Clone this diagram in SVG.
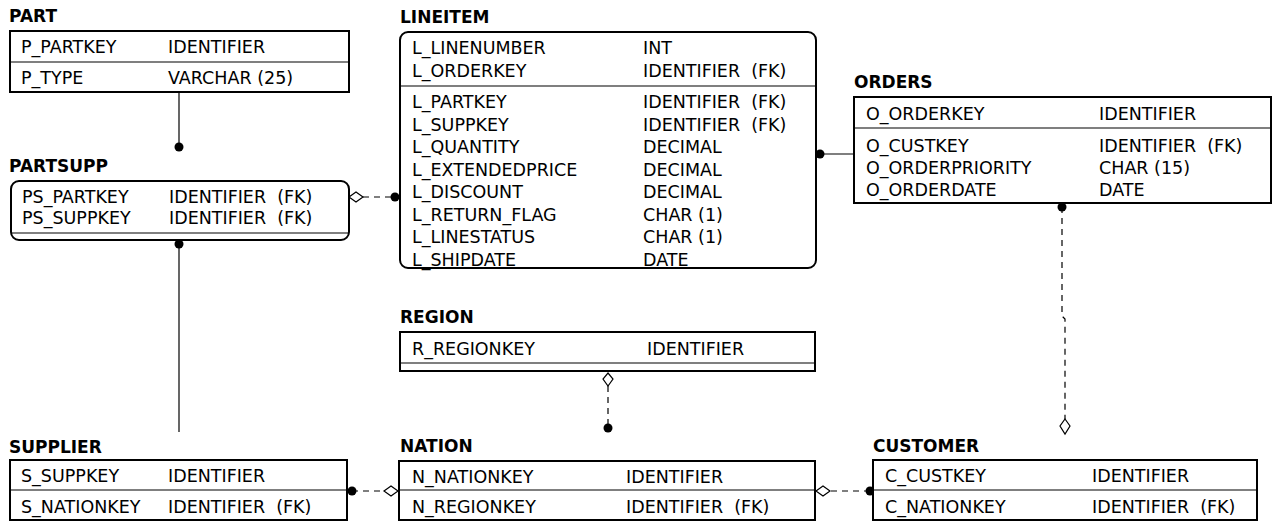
<svg xmlns="http://www.w3.org/2000/svg" width="1274" height="522" viewBox="0 0 1274 522">
<defs>
<style>
.bg{fill:#ffffff}
.box{fill:#ffffff;stroke:#000;stroke-width:2}
.div{stroke:#000;stroke-width:1.2;fill:none}
.t{font-family:"DejaVu Sans","Liberation Sans",sans-serif;font-size:17.5px;fill:#000;white-space:pre}
.h{font-family:"DejaVu Sans","Liberation Sans",sans-serif;font-size:17px;font-weight:bold;fill:#000}
.solid{stroke:#000;stroke-width:1.2;fill:none}
.dash{stroke:#000;stroke-width:1.2;fill:none;stroke-dasharray:6,5}
.dot{fill:#000}
.dia{fill:#fff;stroke:#000;stroke-width:1.2}
</style>
</defs>
<rect class="bg" x="0" y="0" width="1274" height="522"/>

<g id="connectors">
  <!-- PART - PARTSUPP -->
  <line class="solid" x1="179" y1="92" x2="179" y2="147"/>
  <circle class="dot" cx="179" cy="147" r="4.5"/>
  <!-- PARTSUPP - SUPPLIER -->
  <circle class="dot" cx="179" cy="244" r="4.5"/>
  <line class="solid" x1="179" y1="244" x2="179" y2="432"/>
  <!-- PARTSUPP - LINEITEM -->
  <line class="dash" x1="363" y1="197" x2="394" y2="197"/>
  <polygon class="dia" points="349,197 356,192 363,197 356,202"/>
  <circle class="dot" cx="395" cy="197" r="4.5"/>
  <!-- LINEITEM - ORDERS -->
  <line class="solid" x1="820" y1="154" x2="854" y2="154"/>
  <circle class="dot" cx="820" cy="154" r="4.5"/>
  <!-- ORDERS - CUSTOMER -->
  <path class="dash" d="M1062,207 V316 L1065,319 V419"/>
  <circle class="dot" cx="1062" cy="207" r="4.5"/>
  <polygon class="dia" points="1065,419 1070,426 1065,434 1060,426"/>
  <!-- REGION - NATION -->
  <line class="dash" x1="608" y1="386" x2="608" y2="428"/>
  <polygon class="dia" points="608,373 613,379 608,386 603,379"/>
  <circle class="dot" cx="608" cy="428" r="4.5"/>
  <!-- SUPPLIER - NATION -->
  <line class="dash" x1="352" y1="491" x2="385" y2="491"/>
  <circle class="dot" cx="352" cy="491" r="4.5"/>
  <polygon class="dia" points="384,491 391,486 398,491 391,496"/>
  <!-- NATION - CUSTOMER -->
  <line class="dash" x1="831" y1="491" x2="870" y2="491"/>
  <polygon class="dia" points="816,491 823,486 830,491 823,496"/>
  <circle class="dot" cx="870" cy="491" r="4.5"/>
</g>

<g id="part">
  <text class="h" x="9" y="22">PART</text>
  <rect class="box" x="10" y="31" width="339" height="61"/>
  <line class="div" x1="10" y1="62" x2="349" y2="62"/>
  <text class="t" x="21" y="53">P_PARTKEY</text>
  <text class="t" x="168" y="53">IDENTIFIER</text>
  <text class="t" x="21" y="84">P_TYPE</text>
  <text class="t" x="168" y="84">VARCHAR (25)</text>
</g>

<g id="partsupp">
  <text class="h" x="9" y="172">PARTSUPP</text>
  <rect class="box" x="11" y="181" width="338" height="59" rx="8"/>
  <line class="div" x1="11" y1="233" x2="349" y2="233"/>
  <text class="t" x="22" y="203">PS_PARTKEY</text>
  <text class="t" x="169" y="203" xml:space="preserve">IDENTIFIER  (FK)</text>
  <text class="t" x="22" y="224">PS_SUPPKEY</text>
  <text class="t" x="169" y="224" xml:space="preserve">IDENTIFIER  (FK)</text>
</g>

<g id="lineitem">
  <text class="h" x="400" y="23">LINEITEM</text>
  <rect class="box" x="400" y="32" width="416" height="236" rx="8"/>
  <line class="div" x1="400" y1="86" x2="816" y2="86"/>
  <text class="t" x="412" y="54">L_LINENUMBER</text>
  <text class="t" x="643" y="54">INT</text>
  <text class="t" x="412" y="77">L_ORDERKEY</text>
  <text class="t" x="643" y="77" xml:space="preserve">IDENTIFIER  (FK)</text>
  <text class="t" x="412" y="108">L_PARTKEY</text>
  <text class="t" x="643" y="108" xml:space="preserve">IDENTIFIER  (FK)</text>
  <text class="t" x="412" y="130.5">L_SUPPKEY</text>
  <text class="t" x="643" y="130.5" xml:space="preserve">IDENTIFIER  (FK)</text>
  <text class="t" x="412" y="153">L_QUANTITY</text>
  <text class="t" x="643" y="153">DECIMAL</text>
  <text class="t" x="412" y="175.5">L_EXTENDEDPRICE</text>
  <text class="t" x="643" y="175.5">DECIMAL</text>
  <text class="t" x="412" y="198">L_DISCOUNT</text>
  <text class="t" x="643" y="198">DECIMAL</text>
  <text class="t" x="412" y="220.5">L_RETURN_FLAG</text>
  <text class="t" x="643" y="220.5">CHAR (1)</text>
  <text class="t" x="412" y="243">L_LINESTATUS</text>
  <text class="t" x="643" y="243">CHAR (1)</text>
  <text class="t" x="412" y="265.5">L_SHIPDATE</text>
  <text class="t" x="643" y="265.5">DATE</text>
</g>

<g id="orders">
  <text class="h" x="854" y="88">ORDERS</text>
  <rect class="box" x="854" y="97" width="417" height="106"/>
  <line class="div" x1="854" y1="128" x2="1271" y2="128"/>
  <text class="t" x="866" y="120">O_ORDERKEY</text>
  <text class="t" x="1099" y="120">IDENTIFIER</text>
  <text class="t" x="866" y="152">O_CUSTKEY</text>
  <text class="t" x="1099" y="152" xml:space="preserve">IDENTIFIER  (FK)</text>
  <text class="t" x="866" y="174">O_ORDERPRIORITY</text>
  <text class="t" x="1099" y="174">CHAR (15)</text>
  <text class="t" x="866" y="196">O_ORDERDATE</text>
  <text class="t" x="1099" y="196">DATE</text>
</g>

<g id="region">
  <text class="h" x="400" y="323">REGION</text>
  <rect class="box" x="400" y="332" width="415" height="39"/>
  <line class="div" x1="400" y1="363" x2="815" y2="363"/>
  <text class="t" x="412" y="355">R_REGIONKEY</text>
  <text class="t" x="647" y="355">IDENTIFIER</text>
</g>

<g id="supplier">
  <text class="h" x="9" y="453">SUPPLIER</text>
  <rect class="box" x="10" y="460" width="337" height="60"/>
  <line class="div" x1="10" y1="490" x2="347" y2="490"/>
  <text class="t" x="21" y="482">S_SUPPKEY</text>
  <text class="t" x="168" y="482">IDENTIFIER</text>
  <text class="t" x="21" y="513">S_NATIONKEY</text>
  <text class="t" x="168" y="513" xml:space="preserve">IDENTIFIER  (FK)</text>
</g>

<g id="nation">
  <text class="h" x="400" y="452">NATION</text>
  <rect class="box" x="399" y="461" width="416" height="59"/>
  <line class="div" x1="399" y1="490" x2="815" y2="490"/>
  <text class="t" x="412" y="483">N_NATIONKEY</text>
  <text class="t" x="626" y="483">IDENTIFIER</text>
  <text class="t" x="412" y="513">N_REGIONKEY</text>
  <text class="t" x="626" y="513" xml:space="preserve">IDENTIFIER  (FK)</text>
</g>

<g id="customer">
  <text class="h" x="873" y="452">CUSTOMER</text>
  <rect class="box" x="873" y="460" width="384" height="60"/>
  <line class="div" x1="873" y1="490" x2="1257" y2="490"/>
  <text class="t" x="885" y="482">C_CUSTKEY</text>
  <text class="t" x="1092" y="482">IDENTIFIER</text>
  <text class="t" x="885" y="513">C_NATIONKEY</text>
  <text class="t" x="1092" y="513" xml:space="preserve">IDENTIFIER  (FK)</text>
</g>
</svg>
